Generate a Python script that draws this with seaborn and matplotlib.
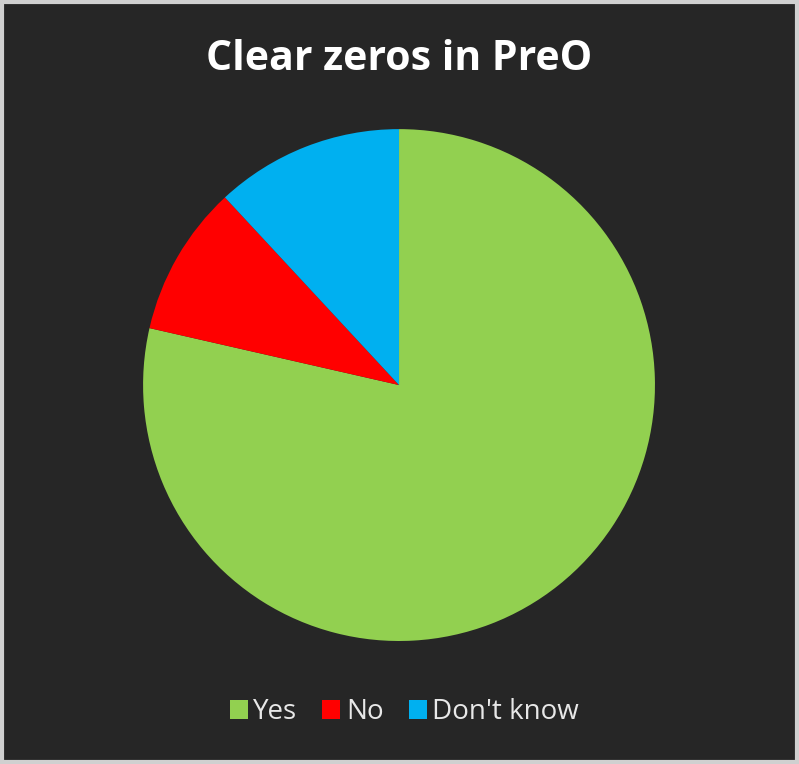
import matplotlib.pyplot as plt
import seaborn as sns
from matplotlib.patches import Rectangle

# Datos
labels = ['Yes', 'No', "Don't know"]
counts = [66, 8, 10]
colors = ['#92D050', '#FF0000', '#00B0F0']

sns.set_style('dark')
plt.rcParams['font.family'] = ['Open Sans', 'DejaVu Sans']

fig = plt.figure(figsize=(7.99, 7.64), dpi=100)
fig.patch.set_facecolor('#262626')

# Marco gris claro alrededor de la figura
fig.patches.append(Rectangle((0.002, 0.002), 0.996, 0.996, transform=fig.transFigure,
                             fill=False, edgecolor='#d0d0d0', linewidth=3))

ax = fig.add_axes([0.179, 0.161, 0.6408, 0.670])
ax.set_facecolor('#262626')
wedges, _ = ax.pie(counts, colors=colors, startangle=90, counterclock=False,
                   wedgeprops={'linewidth': 0})
ax.set_xlim(-1, 1)
ax.set_ylim(-1, 1)
ax.set_aspect('equal')
ax.axis('off')

fig.text(0.5, 0.922, 'Clear zeros in PreO', ha='center', va='center',
         color='white', fontsize=29.5, fontweight='bold')

fig.legend(wedges, labels, loc='center', bbox_to_anchor=(0.506, 0.068),
           ncol=3, frameon=False, fontsize=20, labelcolor='#e8e8e8',
           handlelength=0.65, handleheight=0.65, handletextpad=0.2,
           columnspacing=0.9)

fig.savefig('out.png', dpi=100, facecolor=fig.get_facecolor())
